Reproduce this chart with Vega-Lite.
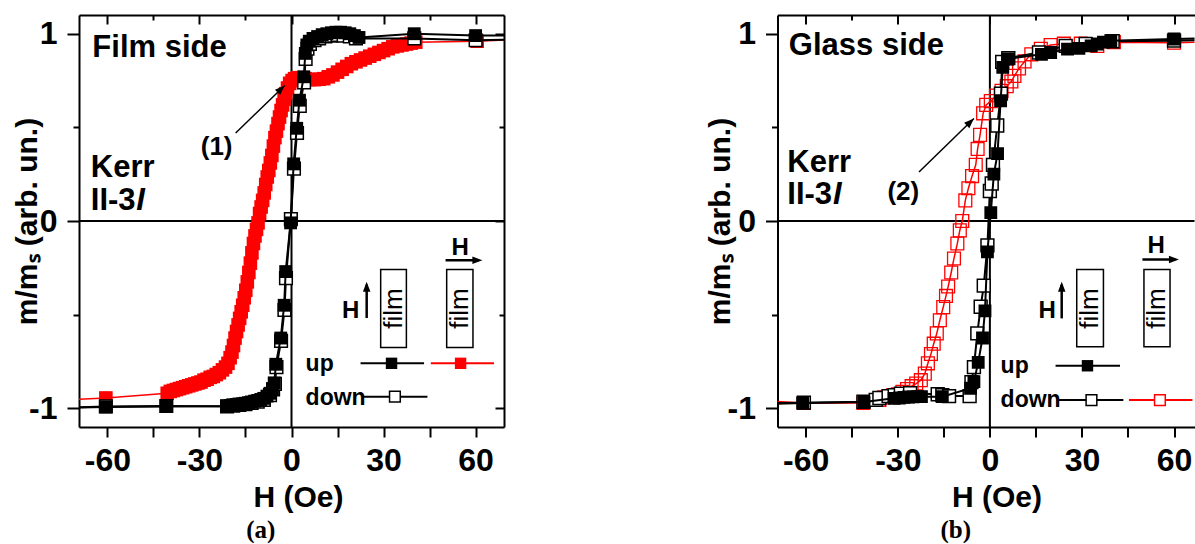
{
"$schema": "https://vega.github.io/schema/vega-lite/v6.json",
"background": "white",
"padding": {"left": 12, "top": 14, "right": 0, "bottom": 0},
"bounds": "flush",
"spacing": 273.5,
"config": {
  "view": {"stroke": null},
  "axis": {"domainColor": "black", "domainWidth": 2, "tickColor": "black", "tickWidth": 2, "grid": false,
    "labelFont": "Liberation Sans", "labelFontSize": 32, "labelFontWeight": "bold", "labelColor": "black",
    "titleFont": "Liberation Sans", "titleFontSize": 30, "titleFontWeight": "bold", "titleColor": "black",
    "labelOverlap": false, "labelFlush": false, "labelBound": false}
},
"datasets": {
  "aRed": [{"h":-80,"m":-0.96},{"h":-60.5,"m":-0.945},{"h":-40.5,"m":-0.92},{"h":-39.5,"m":-0.91},{"h":-38.5,"m":-0.905},{"h":-37.5,"m":-0.9},{"h":-36.5,"m":-0.895},{"h":-35.5,"m":-0.89},{"h":-34.5,"m":-0.885},{"h":-33.5,"m":-0.88},{"h":-32.5,"m":-0.875},{"h":-31.5,"m":-0.87},{"h":-30.5,"m":-0.865},{"h":-29.5,"m":-0.86},{"h":-28.5,"m":-0.85},{"h":-27.5,"m":-0.845},{"h":-26.5,"m":-0.835},{"h":-25.5,"m":-0.83},{"h":-24.5,"m":-0.82},{"h":-23.5,"m":-0.81},{"h":-22.5,"m":-0.795},{"h":-21.5,"m":-0.78},{"h":-20.7,"m":-0.76},{"h":-20.0,"m":-0.73},{"h":-19.4,"m":-0.7},{"h":-18.9,"m":-0.665},{"h":-18.4,"m":-0.625},{"h":-17.9,"m":-0.59},{"h":-17.4,"m":-0.555},{"h":-16.9,"m":-0.52},{"h":-16.4,"m":-0.485},{"h":-15.9,"m":-0.45},{"h":-15.4,"m":-0.41},{"h":-14.9,"m":-0.37},{"h":-14.4,"m":-0.325},{"h":-13.9,"m":-0.275},{"h":-13.4,"m":-0.225},{"h":-12.9,"m":-0.17},{"h":-12.4,"m":-0.12},{"h":-11.9,"m":-0.08},{"h":-11.4,"m":-0.045},{"h":-10.9,"m":-0.01},{"h":-10.4,"m":0.04},{"h":-9.9,"m":0.075},{"h":-9.4,"m":0.11},{"h":-8.9,"m":0.15},{"h":-8.4,"m":0.195},{"h":-7.9,"m":0.235},{"h":-7.4,"m":0.27},{"h":-6.9,"m":0.31},{"h":-6.4,"m":0.35},{"h":-5.9,"m":0.4},{"h":-5.4,"m":0.445},{"h":-4.9,"m":0.48},{"h":-4.4,"m":0.52},{"h":-3.9,"m":0.555},{"h":-3.4,"m":0.59},{"h":-2.9,"m":0.62},{"h":-2.4,"m":0.65},{"h":-1.9,"m":0.68},{"h":-1.3,"m":0.71},{"h":-0.6,"m":0.735},{"h":0.2,"m":0.75},{"h":1.0,"m":0.76},{"h":2.0,"m":0.765},{"h":3.0,"m":0.765},{"h":4.5,"m":0.76},{"h":6.0,"m":0.755},{"h":7.5,"m":0.755},{"h":9.0,"m":0.757},{"h":10.5,"m":0.76},{"h":12,"m":0.77},{"h":13.5,"m":0.78},{"h":15,"m":0.795},{"h":16.5,"m":0.81},{"h":18,"m":0.825},{"h":19.5,"m":0.84},{"h":21,"m":0.85},{"h":22.5,"m":0.86},{"h":24,"m":0.87},{"h":25.5,"m":0.88},{"h":27,"m":0.89},{"h":28.5,"m":0.9},{"h":30,"m":0.91},{"h":31.5,"m":0.92},{"h":33,"m":0.93},{"h":34.5,"m":0.935},{"h":36,"m":0.94},{"h":37.5,"m":0.945},{"h":39,"m":0.95},{"h":40.5,"m":0.955},{"h":60.5,"m":0.96},{"h":80,"m":0.975}],
  "aUp": [{"h":-80,"m":-1.0},{"h":-60.5,"m":-0.993},{"h":-40.8,"m":-0.99},{"h":-21,"m":-0.988},{"h":-20,"m":-0.985},{"h":-19,"m":-0.983},{"h":-18,"m":-0.98},{"h":-17,"m":-0.978},{"h":-16,"m":-0.976},{"h":-15,"m":-0.973},{"h":-14,"m":-0.97},{"h":-13,"m":-0.966},{"h":-12,"m":-0.962},{"h":-11,"m":-0.958},{"h":-10,"m":-0.953},{"h":-9,"m":-0.947},{"h":-8,"m":-0.935},{"h":-7,"m":-0.92},{"h":-6.2,"m":-0.895},{"h":-5.6,"m":-0.865},{"h":-5.1,"m":-0.765},{"h":-3.5,"m":-0.625},{"h":-2.4,"m":-0.45},{"h":-1.9,"m":-0.27},{"h":-0.3,"m":-0.01},{"h":0.7,"m":0.305},{"h":1.7,"m":0.495},{"h":2.6,"m":0.645},{"h":4.0,"m":0.77},{"h":4.5,"m":0.895},{"h":5.0,"m":0.94},{"h":5.8,"m":0.96},{"h":7,"m":0.975},{"h":8.5,"m":0.985},{"h":10,"m":0.995},{"h":11.5,"m":1.0},{"h":13,"m":1.005},{"h":14.5,"m":1.008},{"h":16,"m":1.008},{"h":17.5,"m":1.005},{"h":19,"m":1.0},{"h":20.5,"m":0.99},{"h":22,"m":0.98},{"h":40,"m":1.0},{"h":60,"m":0.99},{"h":80,"m":0.99}],
  "aDown": [{"h":-80,"m":-1.0},{"h":-60.5,"m":-0.99},{"h":-40.8,"m":-0.988},{"h":-21,"m":-0.99},{"h":-19,"m":-0.986},{"h":-17,"m":-0.982},{"h":-15,"m":-0.978},{"h":-13,"m":-0.972},{"h":-11,"m":-0.965},{"h":-9,"m":-0.955},{"h":-7,"m":-0.93},{"h":-6.0,"m":-0.9},{"h":-5.4,"m":-0.87},{"h":-4.9,"m":-0.78},{"h":-3.4,"m":-0.64},{"h":-2.3,"m":-0.475},{"h":-1.8,"m":-0.305},{"h":-0.2,"m":0.01},{"h":0.8,"m":0.28},{"h":1.8,"m":0.47},{"h":2.7,"m":0.615},{"h":4.1,"m":0.74},{"h":4.6,"m":0.865},{"h":5.2,"m":0.92},{"h":6,"m":0.945},{"h":7.5,"m":0.965},{"h":9,"m":0.975},{"h":11,"m":0.985},{"h":13,"m":0.99},{"h":15,"m":0.993},{"h":17,"m":0.99},{"h":19,"m":0.985},{"h":21,"m":0.975},{"h":40,"m":0.975},{"h":60,"m":0.965},{"h":80,"m":0.97}],
  "bUp": [{"h":-80,"m":-0.98},{"h":-61,"m":-0.972},{"h":-41,"m":-0.967},{"h":-31.2,"m":-0.947},{"h":-29.5,"m":-0.945},{"h":-28,"m":-0.942},{"h":-26.5,"m":-0.94},{"h":-25,"m":-0.939},{"h":-23.5,"m":-0.938},{"h":-22.3,"m":-0.938},{"h":-15.5,"m":-0.938},{"h":-6.3,"m":-0.893},{"h":-5.2,"m":-0.858},{"h":-3.8,"m":-0.755},{"h":-2.4,"m":-0.625},{"h":-1.6,"m":-0.48},{"h":-0.8,"m":-0.165},{"h":0.3,"m":0.045},{"h":1.3,"m":0.25},{"h":2.5,"m":0.36},{"h":3.5,"m":0.642},{"h":4.2,"m":0.82},{"h":5.8,"m":0.865},{"h":16.8,"m":0.89},{"h":19.8,"m":0.9},{"h":25.3,"m":0.918},{"h":29.0,"m":0.922},{"h":33,"m":0.935},{"h":35,"m":0.945},{"h":37,"m":0.955},{"h":39.4,"m":0.963},{"h":60,"m":0.972},{"h":80,"m":0.98}],
  "bDown": [{"h":-80,"m":-0.975},{"h":-60.6,"m":-0.97},{"h":-41.2,"m":-0.965},{"h":-37.2,"m":-0.955},{"h":-36,"m":-0.945},{"h":-33,"m":-0.935},{"h":-31,"m":-0.93},{"h":-29,"m":-0.922},{"h":-26,"m":-0.92},{"h":-17,"m":-0.925},{"h":-15.5,"m":-0.93},{"h":-13.3,"m":-0.935},{"h":-6.6,"m":-0.935},{"h":-6.0,"m":-0.86},{"h":-5.2,"m":-0.78},{"h":-4.1,"m":-0.6},{"h":-3.0,"m":-0.458},{"h":-2.0,"m":-0.345},{"h":-0.8,"m":-0.13},{"h":0.0,"m":0.16},{"h":0.6,"m":0.2},{"h":1.0,"m":0.3},{"h":2.4,"m":0.51},{"h":3.6,"m":0.68},{"h":4.0,"m":0.85},{"h":6,"m":0.87},{"h":16,"m":0.9},{"h":24.7,"m":0.935},{"h":31.2,"m":0.945},{"h":40,"m":0.96},{"h":60,"m":0.963},{"h":80,"m":0.968}],
  "bRed": [{"h":-80,"m":-0.955},{"h":-60.6,"m":-0.972},{"h":-41.2,"m":-0.972},{"h":-36,"m":-0.955},{"h":-34.5,"m":-0.942},{"h":-33,"m":-0.936},{"h":-31.5,"m":-0.93},{"h":-30,"m":-0.925},{"h":-28.5,"m":-0.912},{"h":-27,"m":-0.897},{"h":-25.5,"m":-0.882},{"h":-24,"m":-0.868},{"h":-22.5,"m":-0.85},{"h":-21.2,"m":-0.815},{"h":-20.2,"m":-0.76},{"h":-19.2,"m":-0.71},{"h":-18.3,"m":-0.655},{"h":-17.3,"m":-0.6},{"h":-16.3,"m":-0.53},{"h":-15.2,"m":-0.46},{"h":-14.3,"m":-0.4},{"h":-13.6,"m":-0.35},{"h":-12.6,"m":-0.275},{"h":-11.7,"m":-0.2},{"h":-10.6,"m":-0.12},{"h":-9.8,"m":-0.05},{"h":-9.0,"m":0.0},{"h":-8.0,"m":0.11},{"h":-7.0,"m":0.175},{"h":-5.8,"m":0.24},{"h":-4.6,"m":0.3},{"h":-4.0,"m":0.385},{"h":-3.2,"m":0.46},{"h":-2.2,"m":0.575},{"h":-1.2,"m":0.62},{"h":0.3,"m":0.64},{"h":2.0,"m":0.67},{"h":3.8,"m":0.695},{"h":5.5,"m":0.72},{"h":7.0,"m":0.745},{"h":8.0,"m":0.775},{"h":9.5,"m":0.815},{"h":11.3,"m":0.852},{"h":13.5,"m":0.89},{"h":16.6,"m":0.92},{"h":19.8,"m":0.94},{"h":24.1,"m":0.947},{"h":29.6,"m":0.947},{"h":35,"m":0.935},{"h":40.4,"m":0.955},{"h":60,"m":0.952},{"h":80,"m":0.958}]
},
"hconcat": [
{
  "width": 425, "height": 412,
  "encoding": {
    "x": {"field": "h", "type": "quantitative", "scale": {"domain": [-69.25, 69.25], "nice": false, "zero": false}, "axis": null},
    "y": {"field": "m", "type": "quantitative", "scale": {"domain": [-1.1, 1.1], "nice": false, "zero": false}, "axis": null}
  },
  "layer": [
    {"data": {"values": [{"h": 0, "m": -2, "m2": 2}]},
     "mark": {"type": "rule", "color": "black", "strokeWidth": 2, "clip": true},
     "encoding": {
       "x": {"field": "h", "type": "quantitative", "scale": {"domain": [-69.25, 69.25], "nice": false, "zero": false},
         "axis": {"orient": "bottom", "values": [-60,-45,-30,-15,0,15,30,45,60], "labelExpr": "datum.value % 30 === 0 ? '' + datum.value : ''", "tickSize": 10, "labelPadding": 8, "title": "H (Oe)", "titleX": 219, "titleY": 70, "titleBaseline": "middle"}},
       "y2": {"field": "m2"}}},
    {"data": {"values": [{"h": -100, "h2": 100, "m": 0}]},
     "mark": {"type": "rule", "color": "black", "strokeWidth": 2, "clip": true},
     "encoding": {
       "y": {"field": "m", "type": "quantitative", "scale": {"domain": [-1.1, 1.1], "nice": false, "zero": false},
         "axis": {"orient": "left", "values": [-1,-0.5,0,0.5,1], "labelExpr": "datum.value % 1 === 0 ? '' + datum.value : ''", "tickSize": {"condition": {"test": "datum.value % 1 === 0", "value": 12}, "value": 6}, "labelPadding": 10, "title": "m/mₛ (arb. un.)", "titleX": -52, "titleBaseline": "middle"}},
       "x2": {"field": "h2"}}},
    {"data": {"values": [{"h": 29.06, "h2": 37.44, "m": -0.259, "m2": -0.675}, {"h": 50.57, "h2": 59.14, "m": -0.259, "m2": -0.675}]},
     "mark": {"type": "rect", "fill": "white", "stroke": "black", "strokeWidth": 1.5},
     "encoding": {"x2": {"field": "h2"}, "y2": {"field": "m2"}}},
    {"data": {"name": "aRed"}, "mark": {"type": "line", "color": "#ff0000", "strokeWidth": 1.5, "clip": true}},
    {"data": {"name": "aRed"}, "mark": {"type": "point", "shape": "square", "filled": true, "color": "#ff0000", "size": 185, "opacity": 1, "clip": true}},
    {"data": {"name": "aDown"}, "mark": {"type": "line", "color": "black", "strokeWidth": 2, "clip": true}},
    {"data": {"name": "aDown"}, "mark": {"type": "point", "shape": "square", "filled": true, "fill": "white", "stroke": "black", "strokeWidth": 1.5, "size": 160, "opacity": 1, "clip": true}},
    {"data": {"name": "aUp"}, "mark": {"type": "line", "color": "black", "strokeWidth": 2, "clip": true},
     "encoding": {
       "x": {"field": "h", "type": "quantitative", "scale": {"domain": [-69.25, 69.25], "nice": false, "zero": false},
         "axis": {"orient": "top", "values": [-60,-45,-30,-15,0,15,30,45,60], "labels": false, "title": null, "tickSize": {"condition": {"test": "datum.value % 30 === 0", "value": -9}, "value": -5}}},
       "y": {"field": "m", "type": "quantitative", "scale": {"domain": [-1.1, 1.1], "nice": false, "zero": false},
         "axis": {"orient": "right", "values": [-1,-0.5,0,0.5,1], "labels": false, "title": null, "tickSize": {"condition": {"test": "datum.value % 1 === 0", "value": -9}, "value": -5}}}}},
    {"data": {"name": "aUp"}, "mark": {"type": "point", "shape": "square", "filled": true, "color": "black", "size": 165, "opacity": 1, "clip": true}},
    {"data": {"values": [{"h": -18.2, "m": 0.47, "h2": -2.2, "m2": 0.724}]},
     "mark": {"type": "rule", "color": "black", "strokeWidth": 1.5},
     "encoding": {"x2": {"field": "h2"}, "y2": {"field": "m2"}}},
    {"data": {"values": [{"h": 50.2, "m": -0.209, "h2": 61.0, "m2": -0.209}, {"h": 24.5, "m": -0.518, "h2": 24.5, "m2": -0.34}]},
     "mark": {"type": "rule", "color": "black", "strokeWidth": 2.5},
     "encoding": {"x2": {"field": "h2"}, "y2": {"field": "m2"}}},
    {"data": {"values": [{"h": -2.2, "m": 0.724}]},
     "mark": {"type": "point", "shape": "M0,0L-2,-0.75L-2,0.75Z", "filled": true, "color": "black", "size": 100, "opacity": 1, "angle": 316}},
    {"data": {"values": [{"h": 62.2, "m": -0.209}]},
     "mark": {"type": "point", "shape": "M0,0L-2,-0.75L-2,0.75Z", "filled": true, "color": "black", "size": 100, "opacity": 1, "angle": 0}},
    {"data": {"values": [{"h": 24.5, "m": -0.325}]},
     "mark": {"type": "point", "shape": "M0,0L-2,-0.75L-2,0.75Z", "filled": true, "color": "black", "size": 100, "opacity": 1, "angle": 270}},
    {"data": {"values": [{"h": 22.5, "h2": 43.2, "m": -0.76}, {"h": 23.1, "h2": 44.3, "m": -0.938}]},
     "mark": {"type": "rule", "color": "black", "strokeWidth": 2},
     "encoding": {"x2": {"field": "h2"}}},
    {"data": {"values": [{"h": 45.4, "h2": 66.0, "m": -0.76}]},
     "mark": {"type": "rule", "color": "#ff0000", "strokeWidth": 2},
     "encoding": {"x2": {"field": "h2"}}},
    {"data": {"values": [{"h": 32.6, "m": -0.76}]},
     "mark": {"type": "point", "shape": "square", "filled": true, "color": "black", "size": 130, "opacity": 1}},
    {"data": {"values": [{"h": 55.1, "m": -0.76}]},
     "mark": {"type": "point", "shape": "square", "filled": true, "color": "#ff0000", "size": 130, "opacity": 1}},
    {"data": {"values": [{"h": 33.7, "m": -0.938}]},
     "mark": {"type": "point", "shape": "square", "filled": true, "fill": "white", "stroke": "black", "strokeWidth": 1.5, "size": 115, "opacity": 1}},
    {"data": {"values": [{"h": -64.9, "m": 0.875, "t": "Film side"}, {"h": -65.4, "m": 0.235, "t": "Kerr"}, {"h": -65.4, "m": 0.058, "t": "II-3"}]},
     "mark": {"type": "text", "font": "Liberation Sans", "fontSize": 31, "fontWeight": "bold", "align": "left", "baseline": "alphabetic", "color": "black"},
     "encoding": {"text": {"field": "t"}}},
    {"data": {"values": [{"h": -50.6, "m": 0.058, "t": "I"}]},
     "mark": {"type": "text", "font": "Liberation Sans", "fontSize": 31, "fontWeight": "bold", "fontStyle": "italic", "align": "left", "baseline": "alphabetic", "color": "black"},
     "encoding": {"text": {"field": "t"}}},
    {"data": {"values": [{"h": -24.4, "m": 0.394, "t": "(1)"}]},
     "mark": {"type": "text", "font": "Liberation Sans", "fontSize": 26, "fontWeight": "bold", "align": "center", "baseline": "middle", "color": "black"},
     "encoding": {"text": {"field": "t"}}},
    {"data": {"values": [{"h": 55.0, "m": -0.182, "t": "H"}, {"h": 19.3, "m": -0.52, "t": "H"}]},
     "mark": {"type": "text", "font": "Liberation Sans", "fontSize": 24, "fontWeight": "bold", "align": "center", "baseline": "alphabetic", "color": "black"},
     "encoding": {"text": {"field": "t"}}},
    {"data": {"values": [{"h": 4.6, "m": -0.8, "t": "up"}, {"h": 4.6, "m": -0.98, "t": "down"}]},
     "mark": {"type": "text", "font": "Liberation Sans", "fontSize": 23, "fontWeight": "bold", "align": "left", "baseline": "alphabetic", "color": "black"},
     "encoding": {"text": {"field": "t"}}},
    {"data": {"values": [{"h": 33.3, "m": -0.467, "t": "film"}, {"h": 54.9, "m": -0.467, "t": "film"}]},
     "mark": {"type": "text", "font": "Liberation Sans", "fontSize": 26, "angle": 270, "align": "center", "baseline": "middle", "color": "black"},
     "encoding": {"text": {"field": "t"}}},
    {"data": {"values": [{"h": -10.0, "m": -1.65, "t": "(a)"}]},
     "mark": {"type": "text", "font": "Liberation Serif", "fontSize": 25, "fontWeight": "bold", "align": "center", "baseline": "middle", "color": "black"},
     "encoding": {"text": {"field": "t"}}}
  ],
  "resolve": {"axis": {"x": "independent", "y": "independent"}}
},
{
  "width": 417, "height": 412,
  "encoding": {
    "x": {"field": "h", "type": "quantitative", "scale": {"domain": [-69.2, 66.67], "nice": false, "zero": false}, "axis": null},
    "y": {"field": "m", "type": "quantitative", "scale": {"domain": [-1.1, 1.1], "nice": false, "zero": false}, "axis": null}
  },
  "layer": [
    {"data": {"values": [{"h": 0, "m": -2, "m2": 2}]},
     "mark": {"type": "rule", "color": "black", "strokeWidth": 2, "clip": true},
     "encoding": {
       "x": {"field": "h", "type": "quantitative", "scale": {"domain": [-69.2, 66.67], "nice": false, "zero": false},
         "axis": {"orient": "bottom", "values": [-60,-45,-30,-15,0,15,30,45,60], "labelExpr": "datum.value % 30 === 0 ? '' + datum.value : ''", "tickSize": 10, "labelPadding": 8, "title": "H (Oe)", "titleX": 219, "titleY": 70, "titleBaseline": "middle"}},
       "y2": {"field": "m2"}}},
    {"data": {"values": [{"h": -100, "h2": 100, "m": 0}]},
     "mark": {"type": "rule", "color": "black", "strokeWidth": 2, "clip": true},
     "encoding": {
       "y": {"field": "m", "type": "quantitative", "scale": {"domain": [-1.1, 1.1], "nice": false, "zero": false},
         "axis": {"orient": "left", "values": [-1,-0.5,0,0.5,1], "labelExpr": "datum.value % 1 === 0 ? '' + datum.value : ''", "tickSize": {"condition": {"test": "datum.value % 1 === 0", "value": 12}, "value": 6}, "labelPadding": 10, "title": "m/mₛ (arb. un.)", "titleX": -57, "titleBaseline": "middle"}},
       "x2": {"field": "h2"}}},
    {"data": {"values": [{"h": 28.3, "h2": 37.0, "m": -0.259, "m2": -0.671}, {"h": 50.2, "h2": 58.7, "m": -0.259, "m2": -0.671}]},
     "mark": {"type": "rect", "fill": "white", "stroke": "black", "strokeWidth": 1.5},
     "encoding": {"x2": {"field": "h2"}, "y2": {"field": "m2"}}},
    {"data": {"name": "bRed"}, "mark": {"type": "line", "color": "#ff0000", "strokeWidth": 1.5, "clip": true}},
    {"data": {"name": "bRed"}, "mark": {"type": "point", "shape": "square", "filled": false, "color": "#ff0000", "strokeWidth": 1.3, "size": 165, "opacity": 1, "clip": true}},
    {"data": {"name": "bDown"}, "mark": {"type": "line", "color": "black", "strokeWidth": 2, "clip": true}},
    {"data": {"name": "bDown"}, "mark": {"type": "point", "shape": "square", "filled": true, "fill": "white", "stroke": "black", "strokeWidth": 1.5, "size": 165, "opacity": 1, "clip": true}},
    {"data": {"name": "bUp"}, "mark": {"type": "line", "color": "black", "strokeWidth": 2, "clip": true},
     "encoding": {
       "x": {"field": "h", "type": "quantitative", "scale": {"domain": [-69.2, 66.67], "nice": false, "zero": false},
         "axis": {"orient": "top", "values": [-60,-45,-30,-15,0,15,30,45,60], "labels": false, "title": null, "tickSize": {"condition": {"test": "datum.value % 30 === 0", "value": -9}, "value": -5}}}}},
    {"data": {"name": "bUp"}, "mark": {"type": "point", "shape": "square", "filled": true, "color": "black", "size": 165, "opacity": 1, "clip": true}},
    {"data": {"values": [{"h": -23.1, "m": 0.262, "h2": -5.2, "m2": 0.547}]},
     "mark": {"type": "rule", "color": "black", "strokeWidth": 1.5},
     "encoding": {"x2": {"field": "h2"}, "y2": {"field": "m2"}}},
    {"data": {"values": [{"h": 49.7, "m": -0.205, "h2": 60.4, "m2": -0.205}, {"h": 23.4, "m": -0.52, "h2": 23.4, "m2": -0.34}]},
     "mark": {"type": "rule", "color": "black", "strokeWidth": 2.5},
     "encoding": {"x2": {"field": "h2"}, "y2": {"field": "m2"}}},
    {"data": {"values": [{"h": -5.2, "m": 0.547}]},
     "mark": {"type": "point", "shape": "M0,0L-2,-0.75L-2,0.75Z", "filled": true, "color": "black", "size": 100, "opacity": 1, "angle": 316}},
    {"data": {"values": [{"h": 61.6, "m": -0.205}]},
     "mark": {"type": "point", "shape": "M0,0L-2,-0.75L-2,0.75Z", "filled": true, "color": "black", "size": 100, "opacity": 1, "angle": 0}},
    {"data": {"values": [{"h": 23.4, "m": -0.325}]},
     "mark": {"type": "point", "shape": "M0,0L-2,-0.75L-2,0.75Z", "filled": true, "color": "black", "size": 100, "opacity": 1, "angle": 270}},
    {"data": {"values": [{"h": 21.4, "h2": 42.4, "m": -0.773}, {"h": 22.5, "h2": 43.5, "m": -0.956}]},
     "mark": {"type": "rule", "color": "black", "strokeWidth": 2},
     "encoding": {"x2": {"field": "h2"}}},
    {"data": {"values": [{"h": 45.3, "h2": 66.0, "m": -0.956}]},
     "mark": {"type": "rule", "color": "#ff0000", "strokeWidth": 2},
     "encoding": {"x2": {"field": "h2"}}},
    {"data": {"values": [{"h": 31.8, "m": -0.773}]},
     "mark": {"type": "point", "shape": "square", "filled": true, "color": "black", "size": 130, "opacity": 1}},
    {"data": {"values": [{"h": 33.1, "m": -0.956}]},
     "mark": {"type": "point", "shape": "square", "filled": true, "fill": "white", "stroke": "black", "strokeWidth": 1.5, "size": 115, "opacity": 1}},
    {"data": {"values": [{"h": 55.4, "m": -0.956}]},
     "mark": {"type": "point", "shape": "square", "filled": true, "fill": "white", "stroke": "#ff0000", "strokeWidth": 1.5, "size": 115, "opacity": 1}},
    {"data": {"values": [{"h": -65.5, "m": 0.884, "t": "Glass side"}, {"h": -66.0, "m": 0.262, "t": "Kerr"}, {"h": -66.0, "m": 0.093, "t": "II-3"}]},
     "mark": {"type": "text", "font": "Liberation Sans", "fontSize": 31, "fontWeight": "bold", "align": "left", "baseline": "alphabetic", "color": "black"},
     "encoding": {"text": {"field": "t"}}},
    {"data": {"values": [{"h": -51.1, "m": 0.093, "t": "I"}]},
     "mark": {"type": "text", "font": "Liberation Sans", "fontSize": 31, "fontWeight": "bold", "fontStyle": "italic", "align": "left", "baseline": "alphabetic", "color": "black"},
     "encoding": {"text": {"field": "t"}}},
    {"data": {"values": [{"h": -28.2, "m": 0.155, "t": "(2)"}]},
     "mark": {"type": "text", "font": "Liberation Sans", "fontSize": 26, "fontWeight": "bold", "align": "center", "baseline": "middle", "color": "black"},
     "encoding": {"text": {"field": "t"}}},
    {"data": {"values": [{"h": 54.2, "m": -0.173, "t": "H"}, {"h": 18.7, "m": -0.52, "t": "H"}]},
     "mark": {"type": "text", "font": "Liberation Sans", "fontSize": 24, "fontWeight": "bold", "align": "center", "baseline": "alphabetic", "color": "black"},
     "encoding": {"text": {"field": "t"}}},
    {"data": {"values": [{"h": 3.5, "m": -0.81, "t": "up"}, {"h": 3.5, "m": -0.995, "t": "down"}]},
     "mark": {"type": "text", "font": "Liberation Sans", "fontSize": 23, "fontWeight": "bold", "align": "left", "baseline": "alphabetic", "color": "black"},
     "encoding": {"text": {"field": "t"}}},
    {"data": {"values": [{"h": 32.6, "m": -0.467, "t": "film"}, {"h": 54.4, "m": -0.467, "t": "film"}]},
     "mark": {"type": "text", "font": "Liberation Sans", "fontSize": 26, "angle": 270, "align": "center", "baseline": "middle", "color": "black"},
     "encoding": {"text": {"field": "t"}}},
    {"data": {"values": [{"h": -11.1, "m": -1.65, "t": "(b)"}]},
     "mark": {"type": "text", "font": "Liberation Serif", "fontSize": 25, "fontWeight": "bold", "align": "center", "baseline": "middle", "color": "black"},
     "encoding": {"text": {"field": "t"}}}
  ],
  "resolve": {"axis": {"x": "independent", "y": "independent"}}
}
]
}
